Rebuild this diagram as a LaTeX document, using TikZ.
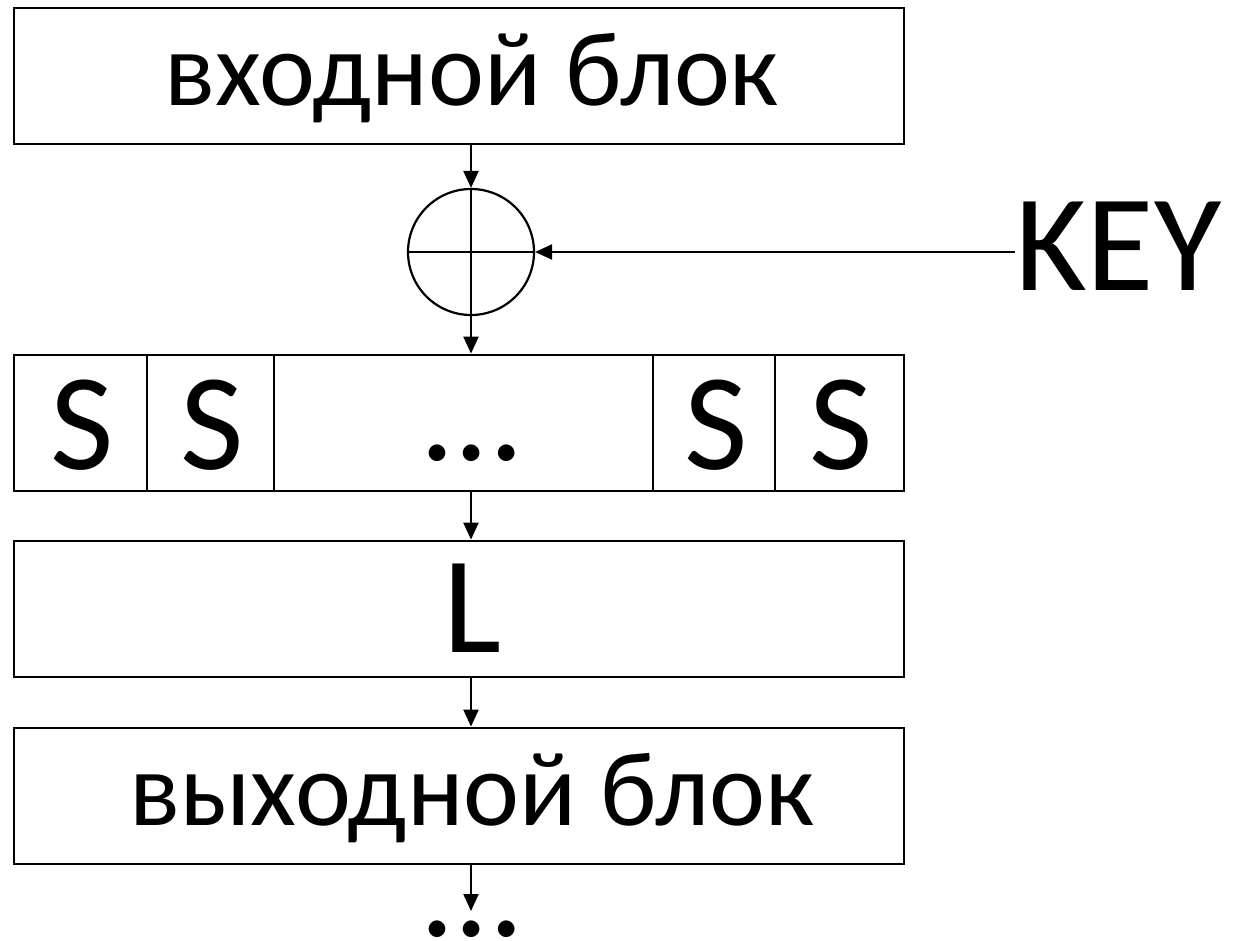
\documentclass[tikz,border=0pt]{standalone}
\usepackage{fontspec}
\setmainfont{Carlito}
\usetikzlibrary{arrows.meta}
\newcommand\bigtxt{\fontsize{138}{140}\selectfont}
\newcommand\midtxt{\fontsize{106}{110}\selectfont}
\begin{document}
\begin{tikzpicture}[x=1pt,y=-1pt,
  blockbox/.style={draw, line width=2.8pt, minimum width=890pt, minimum height=136pt, inner sep=0pt},
  lbl/.style={anchor=base, inner sep=0pt},
  flow/.style={line width=2.2pt, -{Triangle[length=17pt,width=15pt]}},
  xorc/.style={draw, circle, line width=2.2pt, minimum size=126pt, inner sep=0pt}]
\useasboundingbox (0,0) rectangle (1234,940);
% boxes
\node[blockbox] (inb) at (459,76) {};
\node[lbl] (intxt) at (472,105) {\midtxt входной блок};
\node[xorc] (xr) at (471,252) {};
\draw[line width=2.2pt] (xr.west) -- (xr.east);
\draw[line width=2.2pt] (xr.north) -- (xr.south);
\node[lbl, anchor=base west] (key) at (1015,290) {\bigtxt KEY};
\node[blockbox] (sb) at (459,423) {};
\draw[line width=1.4pt] (147,355) -- (147,491);
\draw[line width=1.4pt] (274,355) -- (274,491);
\draw[line width=1.4pt] (653,355) -- (653,491);
\draw[line width=1.4pt] (775,355) -- (775,491);
\node[lbl] (s1) at (82,469) {\bigtxt S};
\node[lbl] (s2) at (212,469) {\bigtxt S};
\node[lbl] (sd) at (472,460) {\bigtxt …};
\node[lbl] (s3) at (716,469) {\bigtxt S};
\node[lbl] (s4) at (841,469) {\bigtxt S};
\node[blockbox] (lb) at (459,609) {};
\node[lbl] (ltxt) at (473,652) {\bigtxt L};
\node[blockbox] (outb) at (459,796) {};
\node[lbl] (outtxt) at (472,825) {\midtxt выходной блок};
\node[lbl] (dots) at (472,936) {\bigtxt …};
\coordinate (dotsin) at (471,911);
% connectors
\draw[flow] (inb.south -| xr.north) -- (xr.north);
\draw[flow] (key.west |- xr.east) -- (xr.east);
\draw[flow] (xr.south) -- (sb.north -| xr.south);
\draw[flow] (sb.south -| xr.south) -- (lb.north -| xr.south);
\draw[flow] (lb.south -| xr.south) -- (outb.north -| xr.south);
\draw[flow] (outb.south -| xr.south) -- (dotsin);
\end{tikzpicture}
\end{document}
